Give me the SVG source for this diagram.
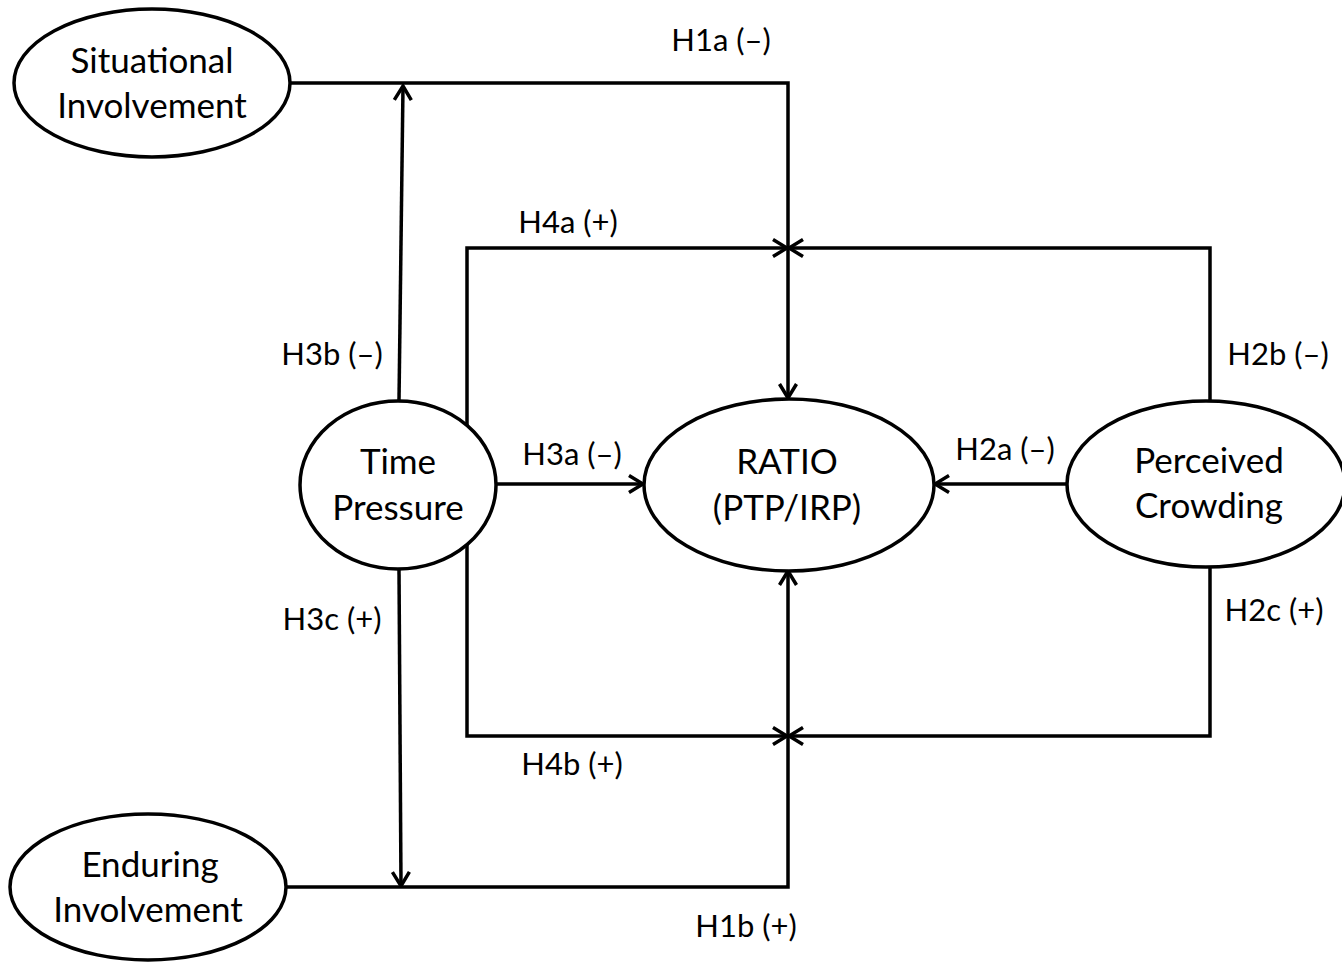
<svg xmlns="http://www.w3.org/2000/svg" width="1342" height="963" viewBox="0 0 1342 963">
<style>
.node ellipse{fill:#fff;stroke:#000;stroke-width:3.5}
.node text{font-family:Lato,"Open Sans","Liberation Sans",sans-serif;font-size:35px;fill:#000;text-anchor:middle}
.lbl{font-family:Lato,"Open Sans","Liberation Sans",sans-serif;font-size:31px;fill:#000;text-anchor:middle}
.conn path{fill:none;stroke:#000;stroke-width:3.5}
</style>
<defs>
<marker id="arr" markerUnits="userSpaceOnUse" viewBox="0 0 18 22" refX="16" refY="11" markerWidth="18" markerHeight="22" orient="auto">
<path d="M2,2.5 L16,11 L2,19.5" fill="none" stroke="#000" stroke-width="3.5" stroke-linejoin="miter"/>
</marker>
</defs>
<g id="connectors" class="conn">
<path d="M290,83 H788 V398" marker-end="url(#arr)"/>
<path d="M399,401 L403,86" marker-end="url(#arr)"/>
<path d="M399,569 L401,886" marker-end="url(#arr)"/>
<path d="M467,425 V248 H787" marker-end="url(#arr)"/>
<path d="M1210,401 V248 H789" marker-end="url(#arr)"/>
<path d="M467,545 V736 H787" marker-end="url(#arr)"/>
<path d="M1210,567 V736 H789" marker-end="url(#arr)"/>
<path d="M287,887 H788 V571" marker-end="url(#arr)"/>
<path d="M496,484 H643" marker-end="url(#arr)"/>
<path d="M1067,484 H935" marker-end="url(#arr)"/>
</g>
<g id="labels">
<text class="lbl" x="721" y="51">H1a (–)</text>
<text class="lbl" x="568" y="233">H4a (+)</text>
<text class="lbl" x="332" y="365">H3b (–)</text>
<text class="lbl" x="1278" y="365">H2b (–)</text>
<text class="lbl" x="572" y="465">H3a (–)</text>
<text class="lbl" x="1005" y="460">H2a (–)</text>
<text class="lbl" x="332" y="630">H3c (+)</text>
<text class="lbl" x="1274" y="621">H2c (+)</text>
<text class="lbl" x="572" y="775">H4b (+)</text>
<text class="lbl" x="746" y="937">H1b (+)</text>
</g>
<g id="situational" class="node">
<ellipse cx="152" cy="83" rx="138" ry="74"/>
<text x="152" y="73">Situational</text>
<text x="152" y="118">Involvement</text>
</g>
<g id="enduring" class="node">
<ellipse cx="148" cy="887" rx="138" ry="73"/>
<text x="150" y="877">Enduring</text>
<text x="148" y="922">Involvement</text>
</g>
<g id="time-pressure" class="node">
<ellipse cx="398" cy="485" rx="98" ry="84"/>
<text x="398" y="474">Time</text>
<text x="398" y="520">Pressure</text>
</g>
<g id="ratio" class="node">
<ellipse cx="789" cy="485" rx="145" ry="86"/>
<text x="787" y="474">RATIO</text>
<text x="787" y="520">(PTP/IRP)</text>
</g>
<g id="perceived-crowding" class="node">
<ellipse cx="1206" cy="484" rx="139" ry="83"/>
<text x="1209" y="473">Perceived</text>
<text x="1209" y="518">Crowding</text>
</g>
</svg>
